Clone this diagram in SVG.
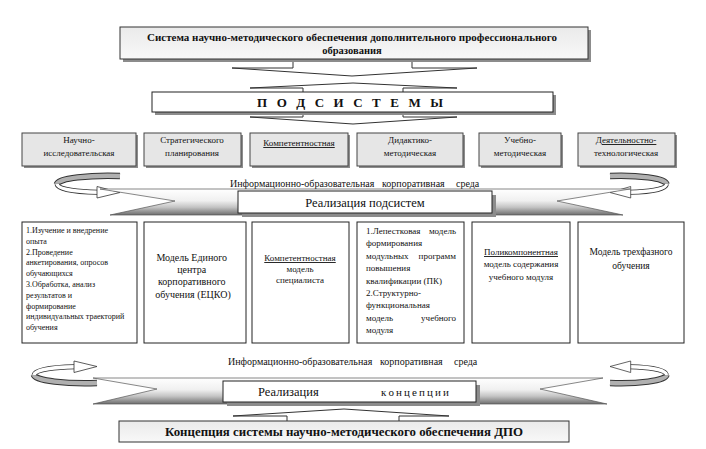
<svg xmlns="http://www.w3.org/2000/svg" xmlns:xlink="http://www.w3.org/1999/xlink" width="706" height="449" viewBox="0 0 706 449" font-family="'Liberation Serif', 'Times New Roman', 'DejaVu Serif', serif">
<style>
.t{font-family:'Liberation Serif','Times New Roman','DejaVu Serif',serif;fill:#111}
.b{font-weight:bold}
.c{text-anchor:middle}
.e{text-anchor:end}
.u{text-decoration:underline}
.sub{fill:#e6e6e6;stroke:#444;stroke-width:1}
.sh{fill:#8c8c8c}
.w{fill:#fff;stroke:#222;stroke-width:1}
.ln{fill:#fff;stroke:#333;stroke-width:1}
</style>
<defs>
<linearGradient id="gTop" x1="0" y1="0" x2="0" y2="1"><stop offset="0" stop-color="#eaeaea"/><stop offset="1" stop-color="#f8f8f8"/></linearGradient>
<linearGradient id="gRib" x1="0" y1="0" x2="0" y2="1"><stop offset="0" stop-color="#ffffff"/><stop offset="0.45" stop-color="#f0f0f0"/><stop offset="0.7" stop-color="#c4c4c4"/><stop offset="1" stop-color="#6e6e6e"/></linearGradient>
<g id="curl">
<path d="M0,0 C-30,-1 -62,2 -63,8" stroke="#333" stroke-width="6.5" fill="none"/>
<path d="M0,0 C-30,-1 -62,2 -63,8" stroke="#b0b0b0" stroke-width="4.5" fill="none"/>
<path d="M-63,8 C-62,14 -40,16 -22,16.3" stroke="#333" stroke-width="5" fill="none"/>
<path d="M-63,8 C-62,14 -40,16 -22,16.3" stroke="#fff" stroke-width="3.4" fill="none"/>
<polygon points="-23,10.5 0,16.5 -23,22" fill="#fff" stroke="#333" stroke-width="0.8"/>
</g>
</defs>
<rect width="706" height="449" fill="#fff"/>

<g id="connectors">
<path class="ln" d="M293,59 V68 H232 L352,76 L477,68 H412 V59"/>
<path class="ln" d="M303,92 V88 H250 L353,83 L457,88 H403 V92"/>
<path class="ln" d="M303,112 V117 H250 L353,124 L457,117 H403 V112"/>
<path class="ln" d="M287,421 V416 H233 L344,409 L449,416 H399 V421"/>
<use xlink:href="#curl" href="#curl" transform="translate(120,176)"/>
<use xlink:href="#curl" href="#curl" transform="translate(610,176) scale(-0.9,1)"/>
<use xlink:href="#curl" href="#curl" transform="translate(97,383) scale(1,-1)"/>
<use xlink:href="#curl" href="#curl" transform="translate(610,383) scale(-0.9,-1)"/>
</g>

<g id="top">
<rect class="sh" x="123" y="30" width="468" height="32"/>
<rect x="120" y="27" width="468" height="32" fill="url(#gTop)" stroke="#333"/>
<text class="t b c" x="352" y="41" font-size="10.5" textLength="410" lengthAdjust="spacingAndGlyphs">Система научно-методического обеспечения дополнительного профессионального</text>
<text class="t b c" x="352" y="54" font-size="10.5">образования</text>
</g>

<g id="podsistemy">
<rect class="sh" x="155" y="95" width="401" height="20"/>
<rect class="w" x="152" y="92" width="401" height="20"/>
<text class="t b" x="257" y="107" font-size="13" textLength="186" lengthAdjust="spacing">П О Д С И С Т Е М Ы</text>
</g>

<g id="s1">
<rect class="sh" x="24" y="135" width="114" height="33"/>
<rect class="sub" x="22" y="133" width="114" height="33"/>
<text class="t c" x="79" y="143" font-size="9">Научно-</text>
<text class="t c" x="79" y="156" font-size="9">исследовательская</text>
</g>
<g id="s2">
<rect class="sh" x="146" y="135" width="97" height="33"/>
<rect class="sub" x="144" y="133" width="97" height="33"/>
<text class="t c" x="192" y="143" font-size="9">Стратегического</text>
<text class="t c" x="192" y="156" font-size="9">планирования</text>
</g>
<g id="s3">
<rect class="sh" x="252" y="135" width="98" height="33"/>
<rect class="sub" x="250" y="133" width="98" height="33"/>
<text class="t c u" x="299" y="146" font-size="9">Компетентностная</text>
</g>
<g id="s4">
<rect class="sh" x="359" y="135" width="106" height="33"/>
<rect class="sub" x="357" y="133" width="106" height="33"/>
<text class="t c" x="410" y="143" font-size="9">Дидактико-</text>
<text class="t c" x="410" y="156" font-size="9">методическая</text>
</g>
<g id="s5">
<rect class="sh" x="481" y="135" width="82" height="33"/>
<rect class="sub" x="479" y="133" width="82" height="33"/>
<text class="t c" x="520" y="143" font-size="9">Учебно-</text>
<text class="t c" x="520" y="156" font-size="9">методическая</text>
</g>
<g id="s6">
<rect class="sh" x="580" y="135" width="97" height="33"/>
<rect class="sub" x="578" y="133" width="97" height="33"/>
<text class="t c u" x="626" y="143" font-size="9">Деятельностно-</text>
<text class="t c" x="626" y="156" font-size="9">технологическая</text>
</g>

<g id="info1">
<text class="t" x="230" y="187" font-size="10">Информационно-образовательная</text>
<text class="t" x="382" y="187" font-size="10">корпоративная</text>
<text class="t" x="456" y="187" font-size="10">среда</text>
</g>

<g id="realizaciya-podsistem">
<polygon points="100,189 630,189 557,201 623,215 110,215 175,201" fill="url(#gRib)" stroke="#555" stroke-width="0.7"/>
<rect class="sh" x="242" y="195" width="254" height="22"/>
<rect class="w" x="238" y="191" width="254" height="22"/>
<text class="t c" x="365" y="207" font-size="12.5">Реализация подсистем</text>
</g>

<g id="m1">
<rect class="w" x="22" y="222" width="115" height="121"/>
<text class="t" font-size="8">
<tspan x="26" y="233">1.Изучение и внедрение</tspan>
<tspan x="26" y="243.8">опыта</tspan>
<tspan x="26" y="254.6">2.Проведение</tspan>
<tspan x="26" y="265.4">анкетирования, опросов</tspan>
<tspan x="26" y="276.2">обучающихся</tspan>
<tspan x="26" y="287">3.Обработка, анализ</tspan>
<tspan x="26" y="297.8">результатов и</tspan>
<tspan x="26" y="308.6">формирование</tspan>
<tspan x="26" y="319.4">индивидуальных траекторий</tspan>
<tspan x="26" y="330.2">обучения</tspan>
</text>
</g>
<g id="m2">
<rect class="w" x="144" y="222" width="102" height="121"/>
<text class="t c" font-size="10">
<tspan x="193" y="261">Модель Единого</tspan>
<tspan x="193" y="273">центра</tspan>
<tspan x="193" y="285">корпоративного</tspan>
<tspan x="193" y="298">обучения  (ЕЦКО)</tspan>
</text>
</g>
<g id="m3">
<rect class="w" x="252" y="222" width="97" height="121"/>
<text class="t c u" x="300" y="261" font-size="9">Компетентностная</text>
<text class="t c" x="300" y="272" font-size="9">модель</text>
<text class="t c" x="300" y="283" font-size="9">специалиста</text>
</g>
<g id="m4">
<rect class="w" x="357" y="222" width="107" height="121"/>
<text class="t" font-size="9" x="366" y="234">1.Лепестковая</text>
<text class="t e" font-size="9" x="456" y="234">модель</text>
<text class="t" font-size="9" x="366" y="246.4">формирования</text>
<text class="t" font-size="9" x="366" y="258.8">модульных</text>
<text class="t e" font-size="9" x="456" y="258.8">программ</text>
<text class="t" font-size="9" x="366" y="271.2">повышения</text>
<text class="t" font-size="9" x="366" y="283.6">квалификации (ПК)</text>
<text class="t" font-size="9" x="366" y="296">2.Структурно-</text>
<text class="t" font-size="9" x="366" y="308.4">функциональная</text>
<text class="t" font-size="9" x="366" y="320.8">модель</text>
<text class="t e" font-size="9" x="456" y="320.8">учебного</text>
<text class="t" font-size="9" x="366" y="333.2">модуля</text>
</g>
<g id="m5">
<rect class="w" x="472" y="222" width="98" height="121"/>
<text class="t c u" x="521" y="255" font-size="9">Поликомпонентная</text>
<text class="t c" x="521" y="267" font-size="9">модель содержания</text>
<text class="t c" x="521" y="280" font-size="9">учебного модуля</text>
</g>
<g id="m6">
<rect class="w" x="578" y="222" width="106" height="121"/>
<text class="t c" x="631" y="255" font-size="9.5">Модель трехфазного</text>
<text class="t c" x="631" y="269" font-size="9.5">обучения</text>
</g>

<g id="info2">
<text class="t" x="228" y="365" font-size="10">Информационно-образовательная</text>
<text class="t" x="380" y="365" font-size="10">корпоративная</text>
<text class="t" x="454" y="365" font-size="10">среда</text>
</g>

<g id="realizaciya-koncepcii">
<polygon points="93,378 603,378 540,389 607,404 93,404 157,389" fill="url(#gRib)" stroke="#555" stroke-width="0.7"/>
<rect class="sh" x="227" y="385" width="253" height="21"/>
<rect class="w" x="223" y="381" width="253" height="21"/>
<text class="t" x="258" y="396" font-size="12.5">Реализация</text>
<text class="t" x="381" y="396" font-size="11" textLength="68" lengthAdjust="spacing">к о н ц е п ц и и</text>
</g>

<g id="koncepciya">
<rect x="119" y="421" width="450" height="21" fill="url(#gTop)" stroke="#333"/>
<text class="t b c" x="344" y="436" font-size="12.5" textLength="358" lengthAdjust="spacingAndGlyphs">Концепция системы научно-методического обеспечения ДПО</text>
</g>
</svg>
